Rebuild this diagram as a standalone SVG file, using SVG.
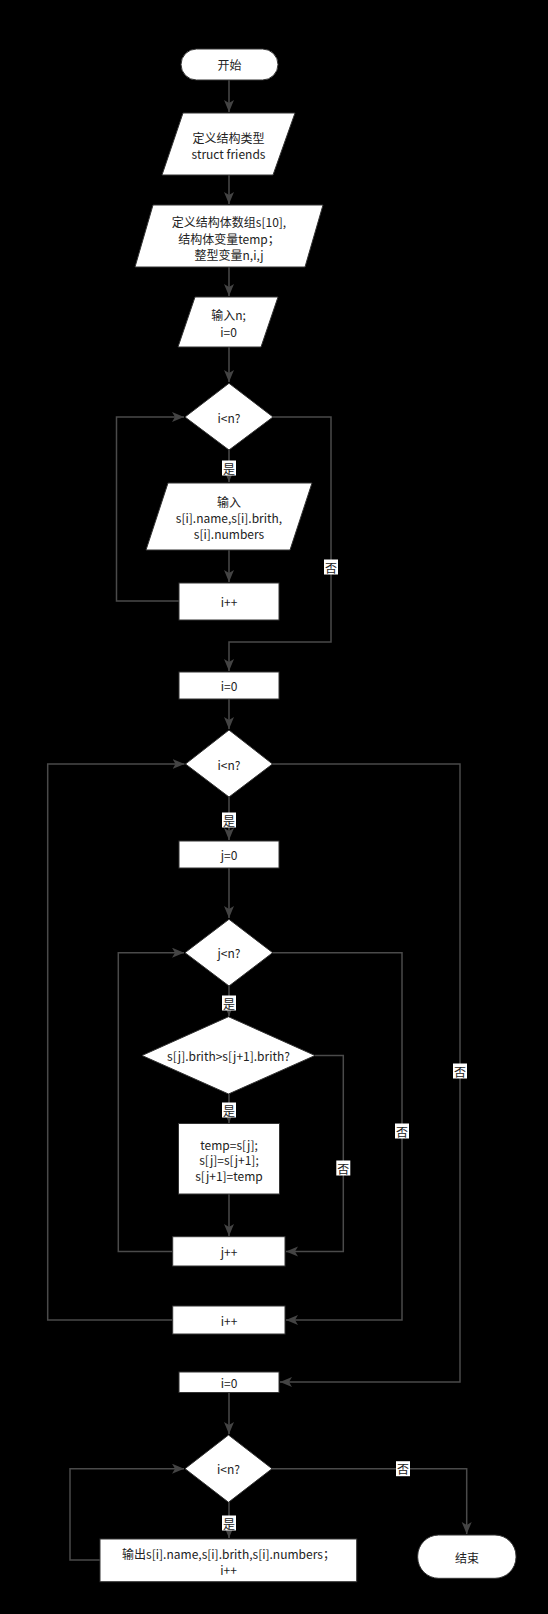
<svg xmlns="http://www.w3.org/2000/svg" width="548" height="1614" viewBox="0 0 548 1614">
<style>
.s{fill:#fff;stroke:#333;stroke-width:1}
.t{font-family:"Noto Sans CJK SC","Noto Sans",sans-serif;font-size:12px;fill:#222;text-anchor:middle;dominant-baseline:central}
.c{fill:none;stroke:#4a4a4a;stroke-width:1.5;marker-end:url(#a)}
.lb{fill:#fff}
</style>
<defs>
<marker id="a" markerUnits="userSpaceOnUse" markerWidth="13" markerHeight="11" refX="12" refY="5" orient="auto">
<path d="M0,0 L12,5 L0,10 L3,5 z" fill="#444"/>
</marker>
</defs>
<rect width="548" height="1614" fill="#000"/>
<g id="connectors">
<path class="c" d="M229,80 V112"/>
<path class="c" d="M229,175 V204"/>
<path class="c" d="M229,267 V296"/>
<path class="c" d="M229,347 V382"/>
<path class="c" d="M229,450 V482"/>
<path class="c" d="M229,550 V582"/>
<path class="c" d="M179,601 H116.5 V417 H184"/>
<path class="c" d="M273,417 H331 V642 H229 V671"/>
<path class="c" d="M229,699 V729"/>
<path class="c" d="M229,797 V840"/>
<path class="c" d="M229,868 V918"/>
<path class="c" d="M229,986 V1016"/>
<path class="c" d="M229,1094 V1123"/>
<path class="c" d="M229,1194 V1236"/>
<path class="c" d="M172.7,1251.5 H118.3 V952.7 H184"/>
<path class="c" d="M315,1055.5 H343.3 V1251.5 H286"/>
<path class="c" d="M272.7,952.7 H402 V1320 H286"/>
<path class="c" d="M172.7,1320 H47.7 V764 H184.5"/>
<path class="c" d="M272.5,764 H460 V1382 H280"/>
<path class="c" d="M229,1392.5 V1434"/>
<path class="c" d="M229,1502 V1538"/>
<path class="c" d="M100,1560 H70 V1468.7 H184"/>
<path class="c" d="M272,1468.7 H466.7 V1534"/>
<g id="labels">
<rect class="lb" x="222" y="460.5" width="14" height="15"/><text class="t" x="229" y="468">是</text>
<rect class="lb" x="324" y="559.5" width="14" height="15"/><text class="t" x="331" y="567">否</text>
<rect class="lb" x="222" y="812.5" width="14" height="15"/><text class="t" x="229" y="820">是</text>
<rect class="lb" x="222" y="995.5" width="14" height="15"/><text class="t" x="229" y="1003">是</text>
<rect class="lb" x="222" y="1102.5" width="14" height="15"/><text class="t" x="229" y="1110">是</text>
<rect class="lb" x="336.3" y="1160.5" width="14" height="15"/><text class="t" x="343.3" y="1168">否</text>
<rect class="lb" x="395" y="1123.5" width="14" height="15"/><text class="t" x="402" y="1131">否</text>
<rect class="lb" x="453" y="1063.5" width="14" height="15"/><text class="t" x="460" y="1071">否</text>
<rect class="lb" x="222" y="1515.5" width="14" height="15"/><text class="t" x="229" y="1523">是</text>
<rect class="lb" x="396" y="1461.2" width="14" height="15"/><text class="t" x="403" y="1468.7">否</text>
</g>
</g>
<g id="start"><rect class="s" x="181" y="49" width="97" height="31" rx="15.5"/><text class="t" x="229.5" y="64.5">开始</text></g>
<g id="p1"><polygon class="s" points="183,113 295,113 273,175 162,175"/><text class="t" x="228.5" y="137">定义结构类型</text><text class="t" x="228.5" y="153">struct friends</text></g>
<g id="p2"><polygon class="s" points="153,205 323,205 305,267 135,267"/><text class="t" x="229" y="221">定义结构体数组s[10],</text><text class="t" x="229" y="238">结构体变量temp；</text><text class="t" x="229" y="254">整型变量n,i,j</text></g>
<g id="p3"><polygon class="s" points="195,297 278,297 261,347 178,347"/><text class="t" x="228.5" y="314">输入n;</text><text class="t" x="228.5" y="331">i=0</text></g>
<g id="d1"><polygon class="s" points="229,383.3 273,417 229,450 185,417"/><text class="t" x="229" y="417">i&lt;n?</text></g>
<g id="p4"><polygon class="s" points="168,483 312,483 290,550 146,550"/><text class="t" x="229" y="501">输入</text><text class="t" x="229" y="517">s[i].name,s[i].brith,</text><text class="t" x="229" y="533">s[i].numbers</text></g>
<g id="inc1"><rect class="s" x="179" y="583" width="100" height="37"/><text class="t" x="229" y="601.5">i++</text></g>
<g id="init1"><rect class="s" x="179" y="672" width="100" height="27"/><text class="t" x="229" y="685.5">i=0</text></g>
<g id="d2"><polygon class="s" points="229,730 272.5,764 229,797 185.5,764"/><text class="t" x="229" y="764">i&lt;n?</text></g>
<g id="initj"><rect class="s" x="179" y="841" width="100" height="27"/><text class="t" x="229" y="854.5">j=0</text></g>
<g id="d3"><polygon class="s" points="229,919.3 272.7,952.7 229,986 185,952.7"/><text class="t" x="229" y="952.7">j&lt;n?</text></g>
<g id="d4"><polygon class="s" points="228.5,1016.7 315,1055.5 228.5,1094 142,1055.5"/><text class="t" x="228.5" y="1055.5">s[j].brith&gt;s[j+1].brith?</text></g>
<g id="swap"><rect class="s" x="178.5" y="1123.5" width="101" height="70.5"/><text class="t" x="229" y="1144">temp=s[j];</text><text class="t" x="229" y="1159.5">s[j]=s[j+1];</text><text class="t" x="229" y="1175">s[j+1]=temp</text></g>
<g id="incj"><rect class="s" x="172.7" y="1236.7" width="112.3" height="29.3"/><text class="t" x="229" y="1251.5">j++</text></g>
<g id="inc2"><rect class="s" x="172.7" y="1306" width="112.3" height="28"/><text class="t" x="229" y="1320">i++</text></g>
<g id="init2"><rect class="s" x="179" y="1372" width="100" height="20.5"/><text class="t" x="229" y="1382">i=0</text></g>
<g id="d5"><polygon class="s" points="228.5,1435 272,1468.7 228.5,1502.3 185,1468.7"/><text class="t" x="228.5" y="1468.7">i&lt;n?</text></g>
<g id="out"><rect class="s" x="100" y="1539" width="256.7" height="42.7"/><text class="t" x="228.5" y="1553.3">输出s[i].name,s[i].brith,s[i].numbers；</text><text class="t" x="228.5" y="1569">i++</text></g>
<g id="end"><rect class="s" x="417.7" y="1535" width="98.3" height="43.3" rx="21"/><text class="t" x="467" y="1557">结束</text></g>
</svg>
